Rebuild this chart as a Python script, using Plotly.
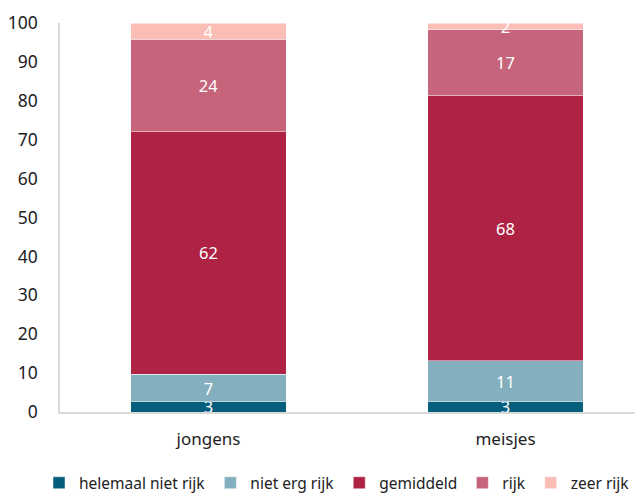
import plotly.graph_objects as go

categories = ["jongens", "meisjes"]
series_names = ["helemaal niet rijk", "niet erg rijk", "gemiddeld", "rijk", "zeer rijk"]
helemaal_niet_rijk = [2.6, 2.6]
niet_erg_rijk = [7.1, 10.6]
gemiddeld = [62.4, 68.1]
rijk = [23.7, 17.0]
zeer_rijk = [4.2, 1.7]
colors = ["#045E7C", "#83AFBE", "#AE2244", "#C5647A", "#FBBEB6"]
y_ticks = [0, 10, 20, 30, 40, 50, 60, 70, 80, 90, 100]

series = [helemaal_niet_rijk, niet_erg_rijk, gemiddeld, rijk, zeer_rijk]
FONT = "Noto Sans"

fig = go.Figure()
for name, vals, col in zip(series_names, series, colors):
    fig.add_trace(go.Bar(
        x=categories, y=vals, name=name,
        marker=dict(color=col, line=dict(color="rgba(255,255,255,0.6)", width=0.8)),
        texttemplate="%{y:.0f}", textposition="inside", insidetextanchor="middle",
        textangle=0, cliponaxis=True,
        textfont=dict(color="white", size=16.5, family=FONT),
        width=0.525, hoverinfo="skip",
    ))

fig.update_layout(
    barmode="stack",
    width=643, height=496,
    margin=dict(l=52, r=0, t=15, b=92, autoexpand=False),
    paper_bgcolor="white", plot_bgcolor="white",
    font=dict(family=FONT, size=15, color="#222222"),
    uniformtext=dict(minsize=16.5, mode="show"),
    showlegend=True,
    legend=dict(orientation="h", x=-0.0355, xanchor="left",
                y=-0.183, yanchor="middle",
                font=dict(size=15.5, color="#222222"), itemwidth=30,
                traceorder="normal"),
    xaxis=dict(range=[-0.5, 1.49], showline=True, linecolor="#D9D9D9", linewidth=1.5,
               ticks="", showgrid=False, tickfont=dict(size=17), ticklabelstandoff=11),
    yaxis=dict(range=[0, 100], tickvals=y_ticks, showline=True, linecolor="#D9D9D9",
               linewidth=1.5, showgrid=False, ticks="", zeroline=False,
               tickfont=dict(size=17.5), ticklabelstandoff=17),
)
fig.write_html("out.html")
